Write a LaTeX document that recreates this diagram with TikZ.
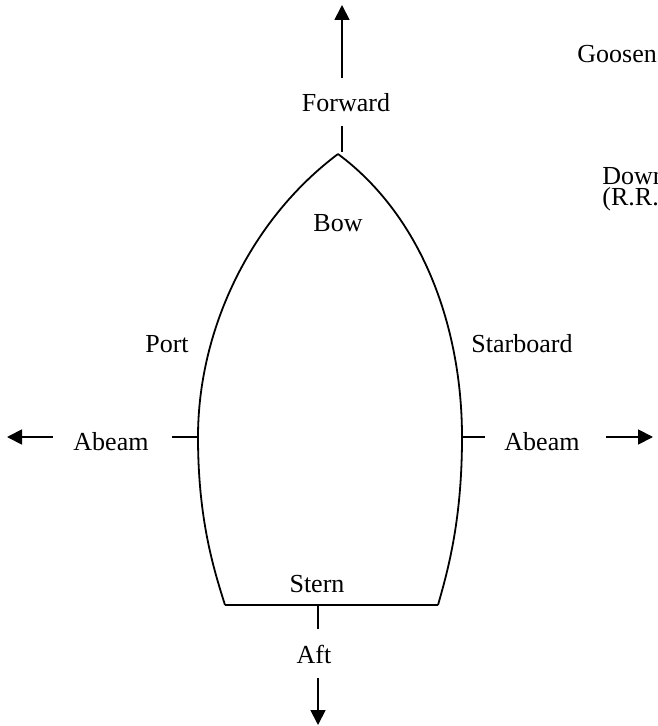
\documentclass[tikz,border=0pt]{standalone}
\usepackage{fontspec}
\setmainfont{Liberation Serif}
\usetikzlibrary{arrows.meta,positioning}
\tikzset{
  pointer/.style={-{Triangle[length=7.5pt,width=7.5pt]}, draw, black, line width=0.9pt},
  tick/.style={draw, black, line width=0.9pt},
}

\begin{document}
\begin{tikzpicture}[x=0.5pt,y=-0.5pt,
            label/.style={inner sep=0pt,font=\fontsize{13}{15.6}\selectfont},
            hull/.style={draw=black,line width=0.9pt,line join=round}]
            \useasboundingbox (0,0) rectangle (657,726);
            \clip (0,0) rectangle (657,726);

            % hull points
            \coordinate (bowtip) at (338,154);
            \coordinate (portmid) at (198,437);
            \coordinate (stbdmid) at (462,437);
            \coordinate (sternp) at (225,605);
            \coordinate (sterns) at (438,605);

            \draw [hull] (bowtip) .. controls (250,220) and (198,330) .. (portmid)
                                  .. controls (198,520) and (214,570) .. (sternp);
            \draw [hull] (bowtip) .. controls (424,218) and (462,330) .. (stbdmid)
                                  .. controls (462,520) and (448,570) .. (sterns);
            \draw [hull] (sternp) -- (sterns);

            % labels
            \node [label, anchor=base] (forward) at (346,112) {Forward};
            \node [label, anchor=base] (bow) at (338,232) {Bow};
            \node [label, anchor=base] (port) at (167,352) {Port};
            \node [label, anchor=base] (starboard) at (522,352) {Starboard};
            \node [label, anchor=base] (abeamp) at (111,450) {Abeam};
            \node [label, anchor=base] (abeams) at (542,450) {Abeam};
            \node [label, anchor=base] (stern) at (317,592) {Stern};
            \node [label, anchor=base] (aft) at (314,663) {Aft};
            \node [label, anchor=base west] (goosen) at (577,63) {Goosen};
            \node [label, anchor=base west] (down) at (602,185) {Down};
            \node [label, anchor=base west] (rr) at (602,206) {(R.R.};

            % ends of the lines
            \coordinate (fwdtail) at (342,78);
            \coordinate (fwdtip) at (342,5);
            \coordinate (fwdstem) at (342,126);
            \coordinate (bowstem) at (342,152);
            \coordinate (sternstem) at (318,605);
            \coordinate (aftstem) at (318,629);
            \coordinate (afttail) at (318,678);
            \coordinate (afttip) at (318,725);
            \coordinate (portstem) at (172,437);
            \coordinate (porttail) at (53,437);
            \coordinate (porttip) at (7,437);
            \coordinate (stbdstem) at (485,437);
            \coordinate (stbdtail) at (606,437);
            \coordinate (stbdtip) at (653,437);

            \draw [pointer] (fwdtail) to (fwdtip);
            \draw [tick] (fwdstem) to (bowstem);
            \draw [tick] (sternstem) to (aftstem);
            \draw [pointer] (afttail) to (afttip);
            \draw [tick] (portstem) to (portmid);
            \draw [pointer] (porttail) to (porttip);
            \draw [tick] (stbdmid) to (stbdstem);
            \draw [pointer] (stbdtail) to (stbdtip);
\end{tikzpicture}
\end{document}
